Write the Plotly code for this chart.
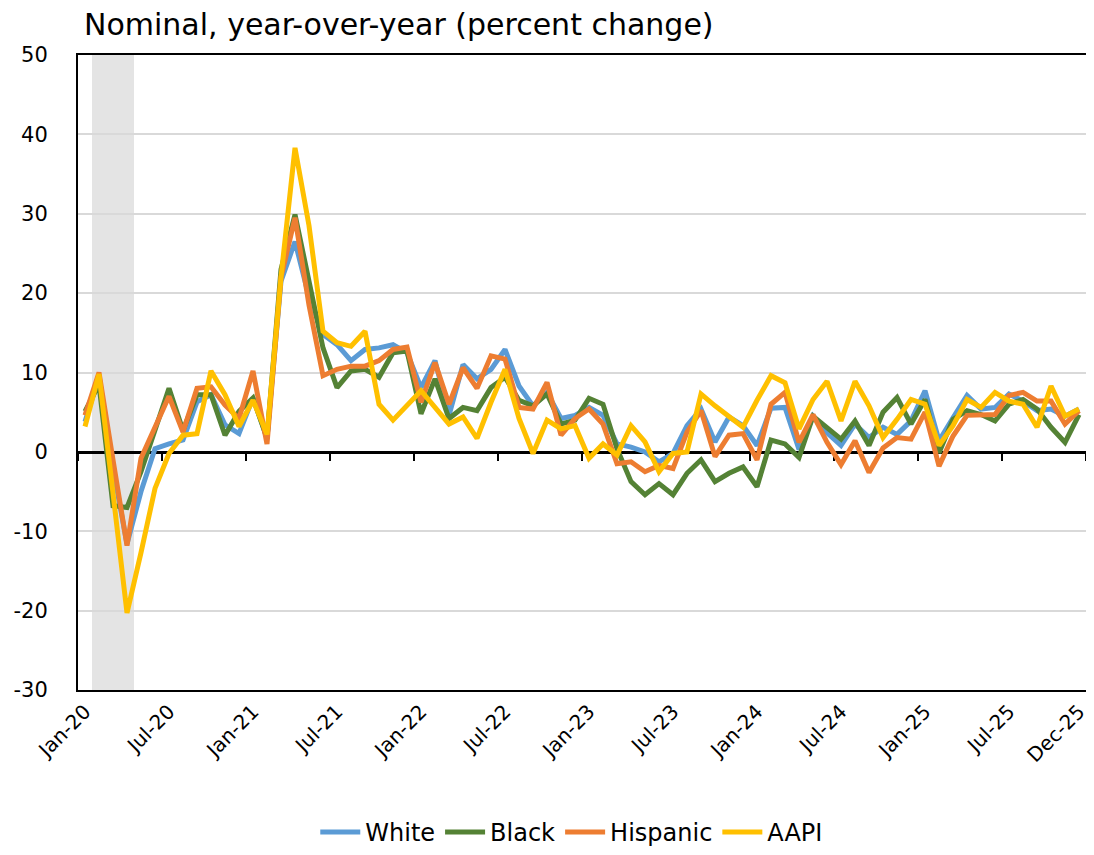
import plotly.graph_objects as go

# --- DATA (monthly Jan-20 .. Dec-25) ---
MONTH_NAMES = ["Jan", "Feb", "Mar", "Apr", "May", "Jun",
               "Jul", "Aug", "Sep", "Oct", "Nov", "Dec"]
YEARS = ["20", "21", "22", "23", "24", "25"]
MONTHS = [f"{m}-{y}" for y in YEARS for m in MONTH_NAMES]

TICK_LABELS = ["Jan-20", "Jul-20", "Jan-21", "Jul-21", "Jan-22", "Jul-22",
               "Jan-23", "Jul-23", "Jan-24", "Jul-24", "Jan-25", "Jul-25", "Dec-25"]

Y_TICKS = [-30, -20, -10, 0, 10, 20, 30, 40, 50]

RECESSION = ["Feb-20", "Apr-20"]  # first and last shaded month

white = [3.8, 9.5, -2.0, -11.6, -5.0, 0.4, 1.0, 1.5, 6.3, 7.2, 3.4, 2.3,
         6.8, 1.8, 21.5, 26.5, 19.5, 14.8, 13.5, 11.5, 12.9, 13.1, 13.5, 12.5,
         8.1, 11.5, 4.6, 11.0, 9.2, 10.4, 12.9, 8.3, 5.8, 7.5, 4.2, 4.6,
         5.6, 4.6, 1.0, 0.6, 0.0, -1.25, -0.2, 3.3, 5.4, 1.25, 4.4, 3.3,
         0.8, 5.5, 5.6, 0.3, 4.5, 2.4, 0.8, 3.5, 1.8, 3.1, 2.2, 3.9,
         7.7, 1.4, 4.3, 7.1, 5.4, 5.6, 7.3, 6.4, 5.2, 5.4, 4.5, 5.4]

black = [5.1, 8.5, -6.8, -7.0, -2.5, 3.0, 8.0, 2.7, 7.2, 7.2, 2.1, 5.1,
         6.8, 1.7, 23.0, 29.9, 21.5, 13.1, 8.1, 10.2, 10.4, 9.4, 12.5, 12.7,
         4.8, 9.2, 4.2, 5.6, 5.2, 8.1, 9.4, 6.5, 5.8, 7.3, 3.5, 4.0,
         6.75, 6.0, 0.4, -3.75, -5.4, -4.0, -5.4, -2.7, -1.0, -3.75, -2.7, -1.9,
         -4.4, 1.5, 1.0, -0.7, 4.5, 3.1, 1.6, 3.9, 0.8, 5.0, 6.85, 3.5,
         6.6, -0.1, 4.1, 5.2, 4.7, 3.9, 6.0, 6.6, 5.4, 3.1, 1.2, 4.7]

hispanic = [4.6, 10.0, -1.0, -11.8, -0.8, 3.0, 7.0, 2.5, 8.0, 8.2, 5.9, 4.2,
            10.2, 1.0, 22.0, 29.5, 18.5, 9.6, 10.4, 10.8, 10.8, 11.5, 12.9, 13.2,
            6.25, 11.25, 6.0, 10.6, 8.0, 12.1, 11.7, 5.6, 5.4, 8.75, 2.1, 4.2,
            5.4, 3.5, -1.5, -1.25, -2.5, -1.7, -2.1, 2.5, 5.2, -0.6, 2.1, 2.3,
            -1.0, 6.0, 7.5, 1.2, 4.7, 1.2, -1.6, 1.4, -2.6, 0.5, 1.8, 1.6,
            5.0, -1.8, 2.0, 4.6, 4.7, 4.7, 7.1, 7.5, 6.4, 6.4, 3.5, 5.2]

aapi = [3.2, 9.8, -5.2, -20.3, -12.7, -4.6, -0.2, 2.1, 2.3, 10.2, 7.2, 3.2,
        6.5, 2.2, 22.0, 38.3, 28.5, 15.2, 13.75, 13.3, 15.2, 6.0, 4.0, 5.8,
        7.7, 5.6, 3.5, 4.4, 1.7, 6.25, 10.4, 4.2, -0.2, 4.0, 2.9, 3.3,
        -0.8, 1.0, -0.4, 3.3, 1.25, -2.5, -0.2, 0.0, 7.3, 5.8, 4.4, 3.1,
        6.5, 9.6, 8.7, 2.9, 6.6, 8.9, 3.9, 8.9, 5.8, 1.8, 4.1, 6.6,
        6.0, 0.8, 3.3, 6.6, 5.6, 7.5, 6.4, 6.0, 3.1, 8.3, 4.5, 5.4]

SERIES = [
    ("White", white, "#5B9BD5"),
    ("Black", black, "#548235"),
    ("Hispanic", hispanic, "#ED7D31"),
    ("AAPI", aapi, "#FFC000"),
]

FONT = "DejaVu Sans"

x_idx = list(range(len(MONTHS)))
label_pos = [MONTHS.index(t) for t in TICK_LABELS]
# tick marks sit between categories (Excel style)
boundary_ticks = [MONTHS.index(t) - 0.5 for t in TICK_LABELS[:-1]] + [len(MONTHS) - 0.5]

fig = go.Figure()

for name, vals, color in SERIES:
    fig.add_trace(go.Scatter(
        x=x_idx, y=vals, name=name, mode="lines",
        line=dict(color=color, width=5),
        text=MONTHS, hovertemplate="%{text}: %{y:.1f}%<extra>" + name + "</extra>",
    ))

# invisible helper so the zero-line axis gets drawn
fig.add_trace(go.Scatter(x=[0], y=[0], xaxis="x2", mode="markers",
                         marker=dict(opacity=0), showlegend=False, hoverinfo="skip"))

# recession shading
fig.add_vrect(x0=MONTHS.index(RECESSION[0]) - 0.5, x1=MONTHS.index(RECESSION[1]) + 0.5,
              fillcolor="#E4E4E4", line_width=0, layer="below")

y_min, y_max = Y_TICKS[0], Y_TICKS[-1]
x_range = [-0.5, 72.07]

# the page body adds an 8px offset, so the figure is sized 8px smaller
fig.update_layout(
    width=1086, height=847,
    margin=dict(l=70, r=0, t=47, b=165),
    paper_bgcolor="white", plot_bgcolor="white",
    font=dict(family=FONT, color="black", size=20),
    title=dict(text="Nominal, year-over-year (percent change)",
               x=76 / 1086, xanchor="left", y=1 - 16 / 847, yanchor="middle",
               font=dict(size=30, family=FONT, color="black")),
    showlegend=True,
    legend=dict(orientation="h", x=0.486, xanchor="center",
                yref="container", y=0.0, yanchor="bottom",
                font=dict(size=24, family=FONT), itemwidth=40,
                bgcolor="rgba(0,0,0,0)"),
    xaxis=dict(range=x_range, tickmode="array", tickvals=label_pos, ticktext=TICK_LABELS,
               tickangle=-45, ticks="", showgrid=False, zeroline=False,
               showline=True, linecolor="black", linewidth=2, mirror=True,
               automargin=False, tickfont=dict(size=20, family=FONT)),
    xaxis2=dict(overlaying="x", matches="x", anchor="free",
                position=(0 - y_min) / (y_max - y_min),
                tickmode="array", tickvals=boundary_ticks, showticklabels=False,
                ticks="outside", ticklen=7, tickwidth=2, tickcolor="black",
                showline=True, linecolor="black", linewidth=2.5,
                showgrid=False, zeroline=False, layer="below traces"),
    yaxis=dict(range=[y_min, y_max], tickmode="array", tickvals=Y_TICKS,
               ticktext=[str(v) for v in Y_TICKS], showgrid=True,
               gridcolor="#D9D9D9", gridwidth=1.5, zeroline=False,
               showline=True, linecolor="black", linewidth=2, mirror=True,
               automargin=False, ticks="", ticklabelstandoff=24,
               tickfont=dict(size=21, family=FONT)),
)

fig.write_html("out.html")
